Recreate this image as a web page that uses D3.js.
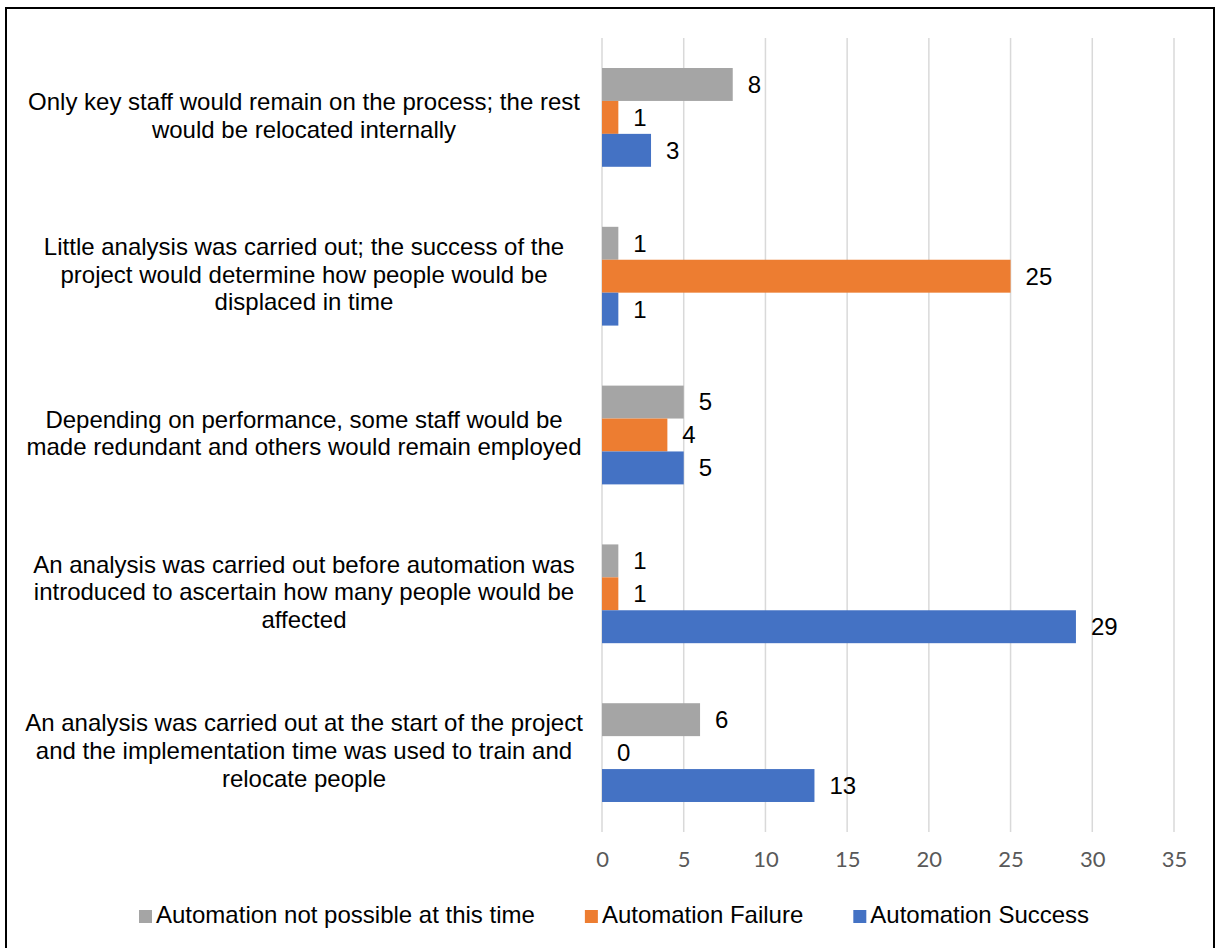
<!DOCTYPE html>
<html>
<head>
<meta charset="utf-8">
<script src="https://cdn.jsdelivr.net/npm/d3@7"></script>
<style>
  html, body { margin: 0; padding: 0; background: #fff; }
  svg { display: block; }
</style>
</head>
<body>
<svg id="chart" width="1215" height="948"></svg>
<script>
// ---- Data ----
const categories = [
  "Only key staff would remain on the process; the rest\nwould be relocated internally",
  "Little analysis was carried out; the success of the\nproject would determine how people would be\ndisplaced in time",
  "Depending on performance, some staff would be\nmade redundant and others would remain employed",
  "An analysis was carried out before automation was\nintroduced to ascertain how many people would be\naffected",
  "An analysis was carried out at the start of the project\nand the implementation time was used to train and\nrelocate people"
];
const seriesNames = ["Automation not possible at this time", "Automation Failure", "Automation Success"];
const notPossible = [8, 1, 5, 1, 6];
const failure = [1, 25, 4, 1, 0];
const success = [3, 1, 5, 29, 13];
const seriesColors = ["#A5A5A5", "#ED7D31", "#4472C4"];
const xTicks = [0, 5, 10, 15, 20, 25, 30, 35];

const seriesValues = [notPossible, failure, success];

// ---- Layout ----
const svg = d3.select("#chart");
const plot = { left: 602, right: 1174, top: 38, bottom: 832 };

// border
svg.append("rect")
  .attr("x", 6).attr("y", 8)
  .attr("width", 1208).attr("height", 945)
  .attr("fill", "none").attr("stroke", "#000").attr("stroke-width", 2);

const x = d3.scaleLinear().domain([0, 35]).range([plot.left, plot.right]);
const y0 = d3.scaleBand().domain(d3.range(categories.length))
  .range([plot.top, plot.bottom]).paddingInner(0.378).paddingOuter(0.189);
const y1 = d3.scaleBand().domain(d3.range(seriesNames.length)).range([0, y0.bandwidth()]);

// gridlines
svg.append("g").selectAll("line").data(xTicks).join("line")
  .attr("x1", d => x(d)).attr("x2", d => x(d))
  .attr("y1", plot.top).attr("y2", plot.bottom)
  .attr("stroke", "#d9d9d9").attr("stroke-width", 1.5);

// x axis tick labels
const xAxis = d3.axisBottom(x).tickValues(xTicks).tickSize(0).tickPadding(0);
const gx = svg.append("g").attr("transform", `translate(0, ${plot.bottom + 20})`).call(xAxis);
gx.select(".domain").remove();
gx.selectAll("text")
  .attr("font-family", "Lato, 'Open Sans', sans-serif")
  .attr("font-size", 22).attr("fill", "#595959").attr("dy", "0.3em").attr("y", 8);

// bars
const groups = svg.append("g").selectAll("g").data(categories).join("g")
  .attr("transform", (d, i) => `translate(0, ${y0(i)})`);

groups.each(function(cat, ci) {
  const g = d3.select(this);
  seriesValues.forEach((vals, si) => {
    const v = vals[ci];
    g.append("rect")
      .attr("x", x(0)).attr("y", y1(si))
      .attr("width", x(v) - x(0)).attr("height", y1.bandwidth())
      .attr("fill", seriesColors[si]);
    g.append("text")
      .attr("x", x(v) + 15).attr("y", y1(si) + y1.bandwidth() / 2)
      .attr("dy", "0.35em")
      .attr("font-family", "'Liberation Sans', Arial, sans-serif")
      .attr("font-size", 24).attr("fill", "#000")
      .text(v);
  });
});

// category labels
const lineH = 27.6;
categories.forEach((cat, i) => {
  const lines = cat.split("\n");
  const cy = y0(i) + y0.bandwidth() / 2 - 2;
  const t = svg.append("text")
    .attr("font-family", "'Liberation Sans', Arial, sans-serif")
    .attr("font-size", 24).attr("fill", "#000").attr("text-anchor", "middle");
  lines.forEach((ln, k) => {
    t.append("tspan").attr("x", 304)
      .attr("y", cy + (k - (lines.length - 1) / 2) * lineH)
      .attr("dy", "0.35em").text(ln);
  });
});

// legend
const legend = svg.append("g");
let lx = 139;
const ly = 910;
seriesNames.forEach((name, i) => {
  legend.append("rect").attr("x", lx).attr("y", ly).attr("width", 13).attr("height", 13)
    .attr("fill", seriesColors[i]);
  const t = legend.append("text").attr("x", lx + 17).attr("y", ly + 13)
    .attr("font-family", "'Liberation Sans', Arial, sans-serif")
    .attr("font-size", 24).attr("fill", "#000").text(name);
  const w = t.node().getComputedTextLength();
  lx = lx + 17 + w + 50;
});
</script>
</body>
</html>
